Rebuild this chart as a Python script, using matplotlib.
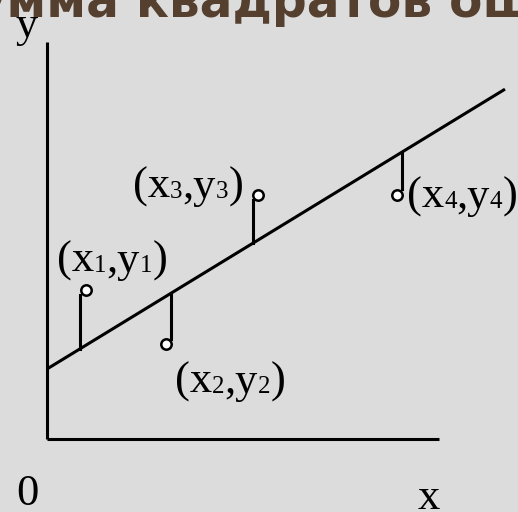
import matplotlib
matplotlib.use("Agg")
import matplotlib.pyplot as plt
from matplotlib.transforms import offset_copy

# regression line y = a + b*x (drawn from x=0 to line_end)
intercept = 7.0
slope = 0.611
line_end = 45.8

# axis extents
x_axis_len = 39.2
y_axis_len = 39.7

# observed points (circle centres)
px = [3.9, 11.9, 21.1, 35.0]
py = [14.9, 9.5, 24.4, 24.4]
# stems: x position and end y (start is on the line)
stem_x = [3.3, 12.4, 20.6, 35.5]
stem_end = [14.4, 10.0, 23.9, 25.0]

# point labels: left edge / baseline and index
lab_x = [1.0, 12.8, 8.6, 36.0]
lab_y = [16.7, 4.6, 24.1, 23.1]
lab_idx = ["1", "2", "3", "4"]

title = "Сумма квадратов ошибок"

bg = "#dcdcdc"
ink = "black"
lw = 2.2
big = 32
small = 18
serif = "Liberation Serif"

fig = plt.figure(figsize=(5.18, 5.12), dpi=100, facecolor=bg)
ax = fig.add_axes([0, 0, 1, 1])
ax.set_facecolor(bg)
ax.set_xlim(-4.7, 47.1)
ax.set_ylim(-7.3, 43.9)
ax.axis("off")

# axes
ax.plot([0, 0], [0, y_axis_len], color=ink, lw=lw, solid_capstyle="butt")
ax.plot([0, x_axis_len], [0, 0], color=ink, lw=lw, solid_capstyle="butt")

# fitted line
ax.plot([0, line_end], [intercept, intercept + slope * line_end],
        color=ink, lw=lw, solid_capstyle="butt")

# residual stems
for sx, se in zip(stem_x, stem_end):
    ax.plot([sx, sx], [intercept + slope * sx, se], color=ink, lw=lw)

ax.plot(px, py, "o", ms=7.5, mfc="white", mec=ink, mew=1.8, zorder=5)

renderer = fig.canvas.get_renderer()


def label(x, y, parts):
    # pieces share one baseline, index digits are just smaller
    dx = 0.0
    for s, size in parts:
        tr = offset_copy(ax.transData, fig=fig, x=dx, y=0, units="dots")
        t = ax.text(x, y, s, transform=tr, fontsize=size, family=serif,
                    va="baseline", ha="left", color=ink)
        dx += t.get_window_extent(renderer).width


for x, y, i in zip(lab_x, lab_y, lab_idx):
    label(x, y, [("(x", big), (i, small), (",y", big), (i, small), (")", big)])

ax.text(-3.1, 40.2, "y", fontsize=big, family=serif, va="baseline", color=ink)
ax.text(-3.1, -6.6, "0", fontsize=big, family=serif, va="baseline", color=ink)
ax.text(37.1, -7.0, "x", fontsize=big, family=serif, va="baseline", color=ink)

ax.text(-10.8, 42.2, title, fontsize=35, fontweight="bold", family="DejaVu Sans",
        va="baseline", ha="left", color="#55402f", zorder=0)

fig.savefig("out.png", dpi=100, facecolor=bg)
